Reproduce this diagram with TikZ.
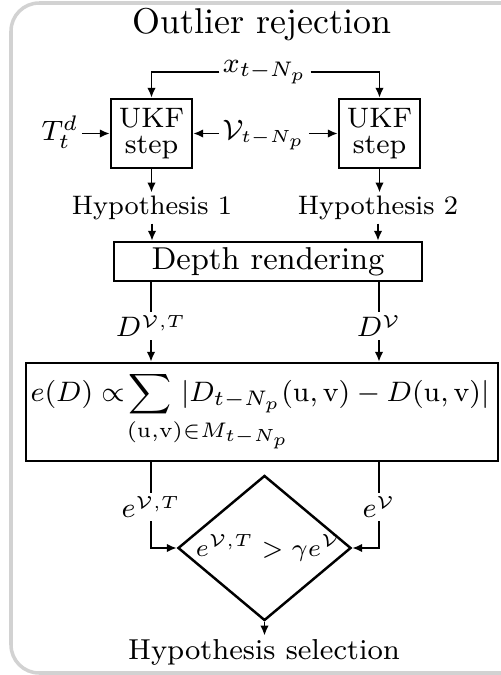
\documentclass[tikz,border=0pt]{standalone}
\usepackage{mathtools}
\usetikzlibrary{arrows.meta,shapes.geometric}
\begin{document}
\begin{tikzpicture}[x=0.01cm,y=-0.01cm,
  arr/.style={-{Latex[length=2.8pt,width=2.4pt]},line width=0.5pt},
  ln/.style={line width=0.5pt},
  box/.style={draw,line width=0.7pt,inner sep=0pt,align=center},
  lbl/.style={inner sep=1pt,outer sep=0pt},
  fsz/.style={font=\fontsize{#1}{#1}\selectfont}]
\useasboundingbox (0,0) rectangle (501,675);
\draw[gray!35,line width=1pt,rounded corners=8] (11,3) rectangle (540,673);
\node[fsz=10.2] (title) at (262,25) {Outlier rejection};
\node[lbl,fsz=8.2] (x) at (265,72) {$x_{t-N_p}$};
\node[box,minimum width=0.81cm,minimum height=0.69cm,font=\fontsize{8}{7.6}\selectfont] (u1) at (151.5,133.5) {UKF\\step};
\node[box,minimum width=0.81cm,minimum height=0.69cm,font=\fontsize{8}{7.6}\selectfont] (u2) at (379.5,133.5) {UKF\\step};
\node[lbl,fsz=8.2] (T) at (60,132) {$T_t^d$};
\node[lbl,fsz=7.6] (V) at (264,135) {$\mathcal{V}_{t-N_p}$};
\node[lbl,fsz=7.6] (h1) at (152,208) {Hypothesis 1};
\node[lbl,fsz=7.6] (h2) at (378,208) {Hypothesis 2};
\node[box,minimum width=3.08cm,minimum height=0.39cm,fsz=9] (dr) at (268,261.5) {Depth rendering};
\node[lbl,fsz=7.6] (d1) at (151,326) {$D^{\mathcal{V},T}$};
\node[lbl,fsz=7.6] (d2) at (379,326) {$D^{\mathcal{V}}$};
\node[box,minimum width=4.72cm,minimum height=0.98cm] (f) at (262,412) {};
\node[inner sep=0pt,fsz=8.1] (fx) at (260,412)
  {$\displaystyle e(D)\propto\!\sum\limits_{\mathrlap{\hspace{-6.5pt}(\mathrm{u},\mathrm{v})\in M_{t-N_p}}}\,|D_{t-N_p}(\mathrm{u},\mathrm{v})-D(\mathrm{u},\mathrm{v})|$};
\node[lbl,fsz=7.6] (e1) at (151,507) {$e^{\mathcal{V},T}$};
\node[lbl,fsz=7.6] (e2) at (379,507) {$e^{\mathcal{V}}$};
\node[draw,diamond,line width=0.7pt,inner sep=0pt,minimum width=1.73cm,minimum height=1.45cm,aspect=1.19] (dia) at (264.5,548) {};
\node[lbl,fsz=7] (cond) at (268,548) {$e^{\mathcal{V},T}>\gamma e^{\mathcal{V}}$};
\node[lbl,fsz=8.2] (sel) at (264,652) {Hypothesis selection};
% arrows
\draw[arr] (x.west) -| (u1.north);
\draw[arr] (x.east) -| (u2.north);
\draw[arr] (T.east |- u1.west) -- (u1.west);
\draw[arr] (V.west |- u1.east) -- (u1.east);
\draw[arr] (V.east |- u2.west) -- (u2.west);
\draw[arr] (u1.south) -- (h1.north -| u1.south);
\draw[arr] (u2.south) -- (h2.north -| u2.south);
\draw[arr] (h1.south) -- (dr.north -| h1.south);
\draw[arr] (h2.south) -- (dr.north -| h2.south);
\draw[ln] (dr.south -| d1) -- (d1.north);
\draw[ln] (dr.south -| d2) -- (d2.north);
\draw[arr] (d1.south) -- (f.north -| d1);
\draw[arr] (d2.south) -- (f.north -| d2);
\draw[ln] (f.south -| e1) -- (e1.north);
\draw[ln] (f.south -| e2) -- (e2.north);
\draw[arr] (e1.south) |- (dia.west);
\draw[arr] (e2.south) |- (dia.east);
\draw[arr] (dia.south) -- (sel.north -| dia.south);
\end{tikzpicture}
\end{document}
